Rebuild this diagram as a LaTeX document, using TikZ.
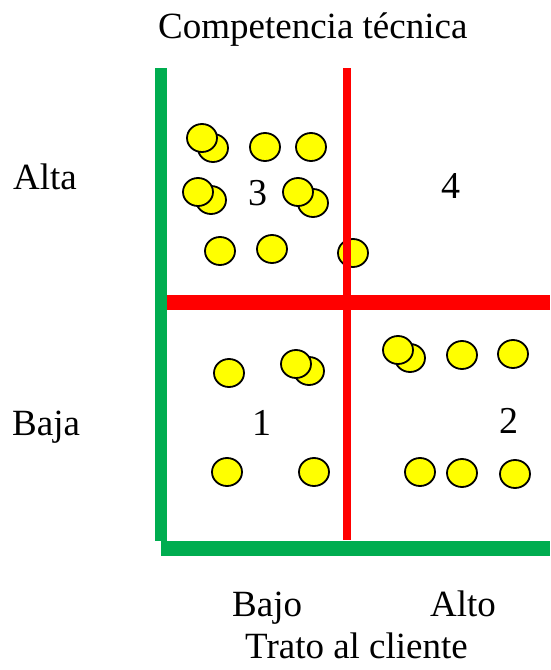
\documentclass[tikz,border=0pt]{standalone}
\usepackage{fontspec}
\setmainfont{Liberation Serif}
\usetikzlibrary{shapes.geometric}
\definecolor{axgreen}{HTML}{00AD50}
\definecolor{axred}{HTML}{FF0000}
\definecolor{dotyellow}{HTML}{FFFF00}
\tikzset{
  dot/.style={ellipse, draw=black, line width=1.8pt, fill=dotyellow, minimum width=30pt, minimum height=28pt, inner sep=0pt},
  lbl/.style={anchor=base west, inner sep=0pt, font=\fontsize{37}{44}\selectfont},
  num/.style={anchor=base, inner sep=0pt, font=\fontsize{38}{44}\selectfont},
}
\begin{document}
\begin{tikzpicture}[x=1pt,y=-1pt]
\useasboundingbox (0,0) rectangle (550,670);
% circles, quadrant 3
\node[dot] (a1b) at (213,148) {};
\node[dot] (a1) at (202,138) {};
\node[dot] (a2) at (265,147) {};
\node[dot] (a3) at (311,147) {};
\node[dot] (a4b) at (211,200) {};
\node[dot] (a4) at (198,192) {};
\node[dot] (a5b) at (313,203) {};
\node[dot] (a5) at (298,192) {};
\node[dot] (a6) at (220,251) {};
\node[dot] (a7) at (272,249) {};
\node[dot] (a8) at (353,253) {};
% quadrant 2
\node[dot] (b1b) at (410,358) {};
\node[dot] (b1) at (398,350) {};
\node[dot] (b2) at (462,355) {};
\node[dot] (b3) at (513,354) {};
\node[dot] (b4) at (420,472) {};
\node[dot] (b5) at (462,473) {};
\node[dot] (b6) at (515,474) {};
% quadrant 1
\node[dot] (c1) at (229,373) {};
\node[dot] (c2b) at (309,371) {};
\node[dot] (c2) at (296,364) {};
\node[dot] (c3) at (227,472) {};
\node[dot] (c4) at (314,472) {};
% axes and dividers
\fill[axgreen] (155,68) rectangle (167,541);
\fill[axgreen] (161,541) rectangle (550,556);
\fill[axred] (167,295) rectangle (550,310);
\fill[axred] (343,68) rectangle (351,540);
% quadrant numbers
\node[num] (n3) at (258,205) {3};
\node[num] (n4) at (451,198) {4};
\node[num] (n1) at (262,435) {1};
\node[num] (n2) at (509,433) {2};
% labels
\node[lbl] (tc) at (158,38) {Competencia técnica};
\node[lbl] (alta) at (13,189) {Alta};
\node[lbl] (baja) at (12,435) {Baja};
\node[lbl] (bajo) at (232,616) {Bajo};
\node[lbl] (alto) at (430,616) {Alto};
\node[lbl] (trato) at (245,658) {Trato al cliente};
\end{tikzpicture}
\end{document}
